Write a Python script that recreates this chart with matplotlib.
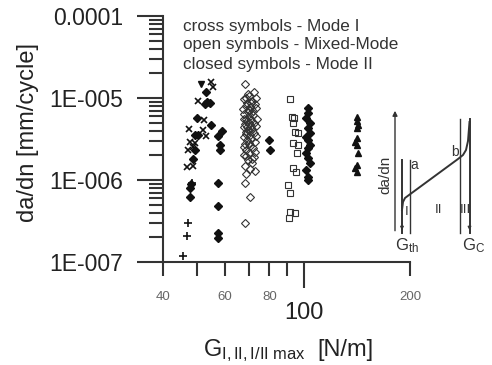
import matplotlib
matplotlib.use('Agg')
import matplotlib.pyplot as plt

plt.rcParams['font.family'] = ['Liberation Sans', 'DejaVu Sans']
plt.rcParams['mathtext.fontset'] = 'custom'
plt.rcParams['mathtext.rm'] = 'Liberation Sans'
plt.rcParams['mathtext.it'] = 'Liberation Sans:italic'

# Mode I - cross symbols
mode1_x_g = [55.4, 54.7, 50.2, 52.3, 47.4, 51.9, 52.9, 47.7, 49.3, 47.1, 48.6, 46.8, 48.6]
mode1_x_da = [1.36e-5, 1.55e-5, 9.2e-6, 5.4e-6, 4.2e-6, 4.1e-6, 3.4e-6, 2.9e-6, 2.8e-6,
              2.3e-6, 2.5e-6, 1.44e-6, 1.5e-6]
mode1_plus_g = [48.3, 47.1, 46.8, 45.6]
mode1_plus_da = [9.2e-7, 3.0e-7, 2.1e-7, 1.18e-7]

# Mixed-Mode - open symbols
mixed_dia_g = [68.2, 72.4, 70.0, 67.8, 71.5, 69.0, 72.8, 68.5, 70.5, 67.5, 71.8, 69.5, 68.0, 72.0,
               70.2, 67.6, 71.2, 69.2, 72.6, 68.4, 70.8, 67.9, 71.6, 69.6, 68.8, 72.2, 70.4, 67.7,
               71.0, 69.3, 72.9, 68.3, 70.6, 71.9, 68.9, 70.1, 67.6, 72.3, 69.7, 71.3, 68.1, 70.3,
               72.7, 68.6, 68.2, 70.5, 68.2,
               73.5, 69.8, 68.7, 71.1, 73.3, 69.9, 70.9, 73.6, 68.9, 70.0, 73.1, 69.1, 70.7, 68.6,
               73.4, 69.9, 67.9, 73.0, 68.8, 71.4]
mixed_dia_da = [1.48e-5, 1.18e-5, 1.05e-5, 9.6e-6, 9.2e-6, 8.8e-6, 8.4e-6, 8.0e-6, 7.7e-6, 7.3e-6,
                7.0e-6, 6.7e-6, 6.4e-6, 6.2e-6, 5.9e-6, 5.6e-6, 5.4e-6, 5.2e-6, 5.0e-6, 4.8e-6,
                4.6e-6, 4.4e-6, 4.2e-6, 4.05e-6, 3.85e-6, 3.7e-6, 3.5e-6, 3.35e-6, 3.2e-6, 3.05e-6,
                2.9e-6, 2.75e-6, 2.6e-6, 2.45e-6, 2.3e-6, 2.15e-6, 2.0e-6, 1.9e-6, 1.75e-6, 1.6e-6,
                1.5e-6, 1.38e-6, 1.3e-6, 1.2e-6, 9.2e-7, 6.2e-7, 3.0e-7,
                1.0e-5, 1.12e-5, 1.0e-5, 8.6e-6, 7.6e-6, 7.2e-6, 6.5e-6, 5.6e-6, 5.5e-6, 4.9e-6,
                4.5e-6, 4.4e-6, 4.0e-6, 3.6e-6, 3.4e-6, 2.85e-6, 2.5e-6, 2.2e-6, 1.95e-6, 1.8e-6]
mixed_sq_g = [91.5, 92.7, 93.9, 93.3, 94.5, 96.4, 93.3, 96.4, 95.8, 93.3, 95.2, 90.3, 91.5, 91.5,
              94.5, 90.9]
mixed_sq_da = [9.7e-6, 5.87e-6, 5.7e-6, 4.96e-6, 3.85e-6, 3.75e-6, 2.83e-6, 2.67e-6, 2.13e-6,
               1.40e-6, 1.25e-6, 8.7e-7, 6.9e-7, 4.1e-7, 4.0e-7, 3.4e-7]

# Mode II - closed symbols
mode2_dia_g = [52.9, 53.3, 54.3, 52.6, 49.9, 54.7, 49.3, 50.2, 58.8, 57.2, 58.0, 58.0, 49.3, 48.6,
               47.7, 47.7, 57.2, 57.2, 57.2, 57.2, 48.0, 79.8, 80.2,
               102.9, 102.9, 101.6, 104.2, 102.9, 104.2, 101.6, 102.9, 104.2, 102.9, 101.6, 102.9,
               104.2, 101.6, 102.9, 102.9]
mode2_dia_da = [1.18e-5, 8.9e-6, 8.7e-6, 8.5e-6, 5.7e-6, 4.7e-6, 3.5e-6, 3.5e-6, 4.0e-6, 3.4e-6,
                2.7e-6, 2.3e-6, 2.3e-6, 1.8e-6, 8.0e-7, 6.2e-7, 9.2e-7, 4.8e-7, 2.26e-7, 1.96e-7,
                9.0e-7, 3.07e-6, 2.32e-6,
                7.55e-6, 6.56e-6, 5.7e-6, 4.96e-6, 4.31e-6, 3.74e-6, 3.34e-6, 3.07e-6, 2.67e-6,
                2.46e-6, 2.13e-6, 1.85e-6, 1.61e-6, 1.32e-6, 1.0e-6, 1.09e-6]
mode2_vtri_g = [51.3]
mode2_vtri_da = [1.48e-5]
mode2_tri_g = [141.6, 141.6, 142.5, 141.6, 141.6, 139.8, 141.6, 142.5, 141.6, 139.8, 141.6]
mode2_tri_da = [5.87e-6, 5.24e-6, 4.69e-6, 4.31e-6, 3.25e-6, 2.91e-6, 2.67e-6, 2.13e-6, 1.52e-6,
                1.40e-6, 1.25e-6]

y_ticks = [1e-7, 1e-6, 1e-5, 1e-4]
y_ticklabels = ['1E-007', '1E-006', '1E-005', '0.0001']
x_minor = [40, 50, 60, 70, 80, 90, 200]
x_minor_labels = ['40', '', '60', '', '80', '', '200']

# schematic inset (in pixel units of the overlay)
curve_x = [402, 403, 405, 409, 458, 463, 466, 468, 469.5]
curve_y = [210, 202, 198, 195, 159, 155, 150, 141, 122]

W, H = 492, 365
fig = plt.figure(figsize=(W / 100, H / 100), dpi=100)
ax = fig.add_axes([163 / W, 1 - 262 / H, 247 / W, 246 / H])
ax.set_xscale('log')
ax.set_yscale('log')
ax.set_xlim(40, 200)
ax.set_ylim(1e-7, 1e-4)

dark = '#111111'
ax.plot(mode1_x_g, mode1_x_da, 'x', color=dark, ms=4.5, mew=1.2, clip_on=False)
ax.plot(mode1_plus_g, mode1_plus_da, '+', color=dark, ms=6, mew=1.2, clip_on=False)
ax.plot(mixed_dia_g, mixed_dia_da, 'D', mfc='none', mec='#333333', ms=4.2, mew=0.8)
ax.plot(mixed_sq_g, mixed_sq_da, 's', mfc='none', mec='#333333', ms=4.2, mew=0.8)
ax.plot(mode2_dia_g, mode2_dia_da, 'D', color=dark, ms=4.2)
ax.plot(mode2_vtri_g, mode2_vtri_da, 'v', color=dark, ms=5)
ax.plot(mode2_tri_g, mode2_tri_da, '^', color=dark, ms=5)

for s in ['top', 'right']:
    ax.spines[s].set_visible(False)
for s in ['left', 'bottom']:
    ax.spines[s].set_linewidth(1.5)
    ax.spines[s].set_color('#333333')
ax.set_facecolor('none')

ax.set_yticks(y_ticks)
ax.set_yticklabels(y_ticklabels)
ax.set_xticks([100])
ax.set_xticklabels(['100'])
ax.set_xticks(x_minor, minor=True)
ax.set_xticklabels(x_minor_labels, minor=True)
ax.tick_params(which='major', length=18.5, width=1.5, color='#333333')
ax.tick_params(which='minor', length=10, width=1.5, color='#333333')
ax.tick_params(axis='y', which='major', labelsize=16.5, pad=10, labelcolor='#222222')
ax.tick_params(axis='x', which='major', labelsize=17, pad=10, labelcolor='#222222')
ax.tick_params(axis='x', which='minor', labelsize=9.5, pad=11, labelcolor='#666666')

# overlay in pixel coordinates for text and schematic
ov = fig.add_axes([0, 0, 1, 1], facecolor='none')
ov.set_xlim(0, W)
ov.set_ylim(H, 0)
ov.axis('off')

txt = '#333333'
ov.text(183, 26, 'cross symbols - Mode I', fontsize=12.3, color=txt, va='center')
ov.text(183, 45, 'open symbols - Mixed-Mode', fontsize=12.3, color=txt, va='center')
ov.text(183, 64, 'closed symbols - Mode II', fontsize=12.3, color=txt, va='center')

ov.text(28, 133, 'da/dn [mm/cycle]', fontsize=17, color='#222222', rotation=90,
        ha='center', va='center')
ov.text(203, 356, r'G$_{\mathrm{I,II,I/II\ max}}$', fontsize=17, color='#222222', va='baseline')
ov.text(317, 356, '[N/m]', fontsize=17, color='#222222', va='baseline')

# schematic
lc = '#333333'
ov.annotate('', xy=(395, 108), xytext=(395, 233.5),
            arrowprops=dict(arrowstyle='-|>', lw=1, color=lc, mutation_scale=7))
ov.annotate('', xy=(493, 233), xytext=(394.5, 233),
            arrowprops=dict(arrowstyle='-|>', lw=1, color=lc, mutation_scale=7))
ov.plot([402, 402], [160, 233], color=lc, lw=1.4)
ov.plot([410, 410], [160, 233], color=lc, lw=1)
ov.plot([460, 460], [119, 233], color=lc, lw=1)
ov.plot([469.5, 469.5], [119, 233], color=lc, lw=1.4)
ov.plot(curve_x, curve_y, color=lc, lw=1.4)
ov.annotate('', xy=(402, 233), xytext=(402, 224),
            arrowprops=dict(arrowstyle='-|>', lw=0.8, color=lc, mutation_scale=5))
ov.annotate('', xy=(469.5, 233), xytext=(469.5, 224),
            arrowprops=dict(arrowstyle='-|>', lw=0.8, color=lc, mutation_scale=5))
ov.text(414, 165, 'a', fontsize=10, color=lc, ha='center', va='center')
ov.text(455, 152, 'b', fontsize=10, color=lc, ha='center', va='center')
ov.text(407, 212, 'I', fontsize=9.5, color=lc, ha='center', va='center')
ov.text(439, 210, 'II', fontsize=9.5, color=lc, ha='center', va='center')
ov.text(465, 210, 'III', fontsize=9.5, color=lc, ha='center', va='center')
ov.text(385, 175, 'da/dn', fontsize=11, color=lc, rotation=90, ha='center', va='center')
ov.text(395, 250, r'G$_{\mathrm{th}}$', fontsize=12, color=lc, va='baseline')
ov.text(462, 250, r'G$_{\mathrm{C}}$', fontsize=12, color=lc, va='baseline')

fig.savefig('out.png', dpi=100)
